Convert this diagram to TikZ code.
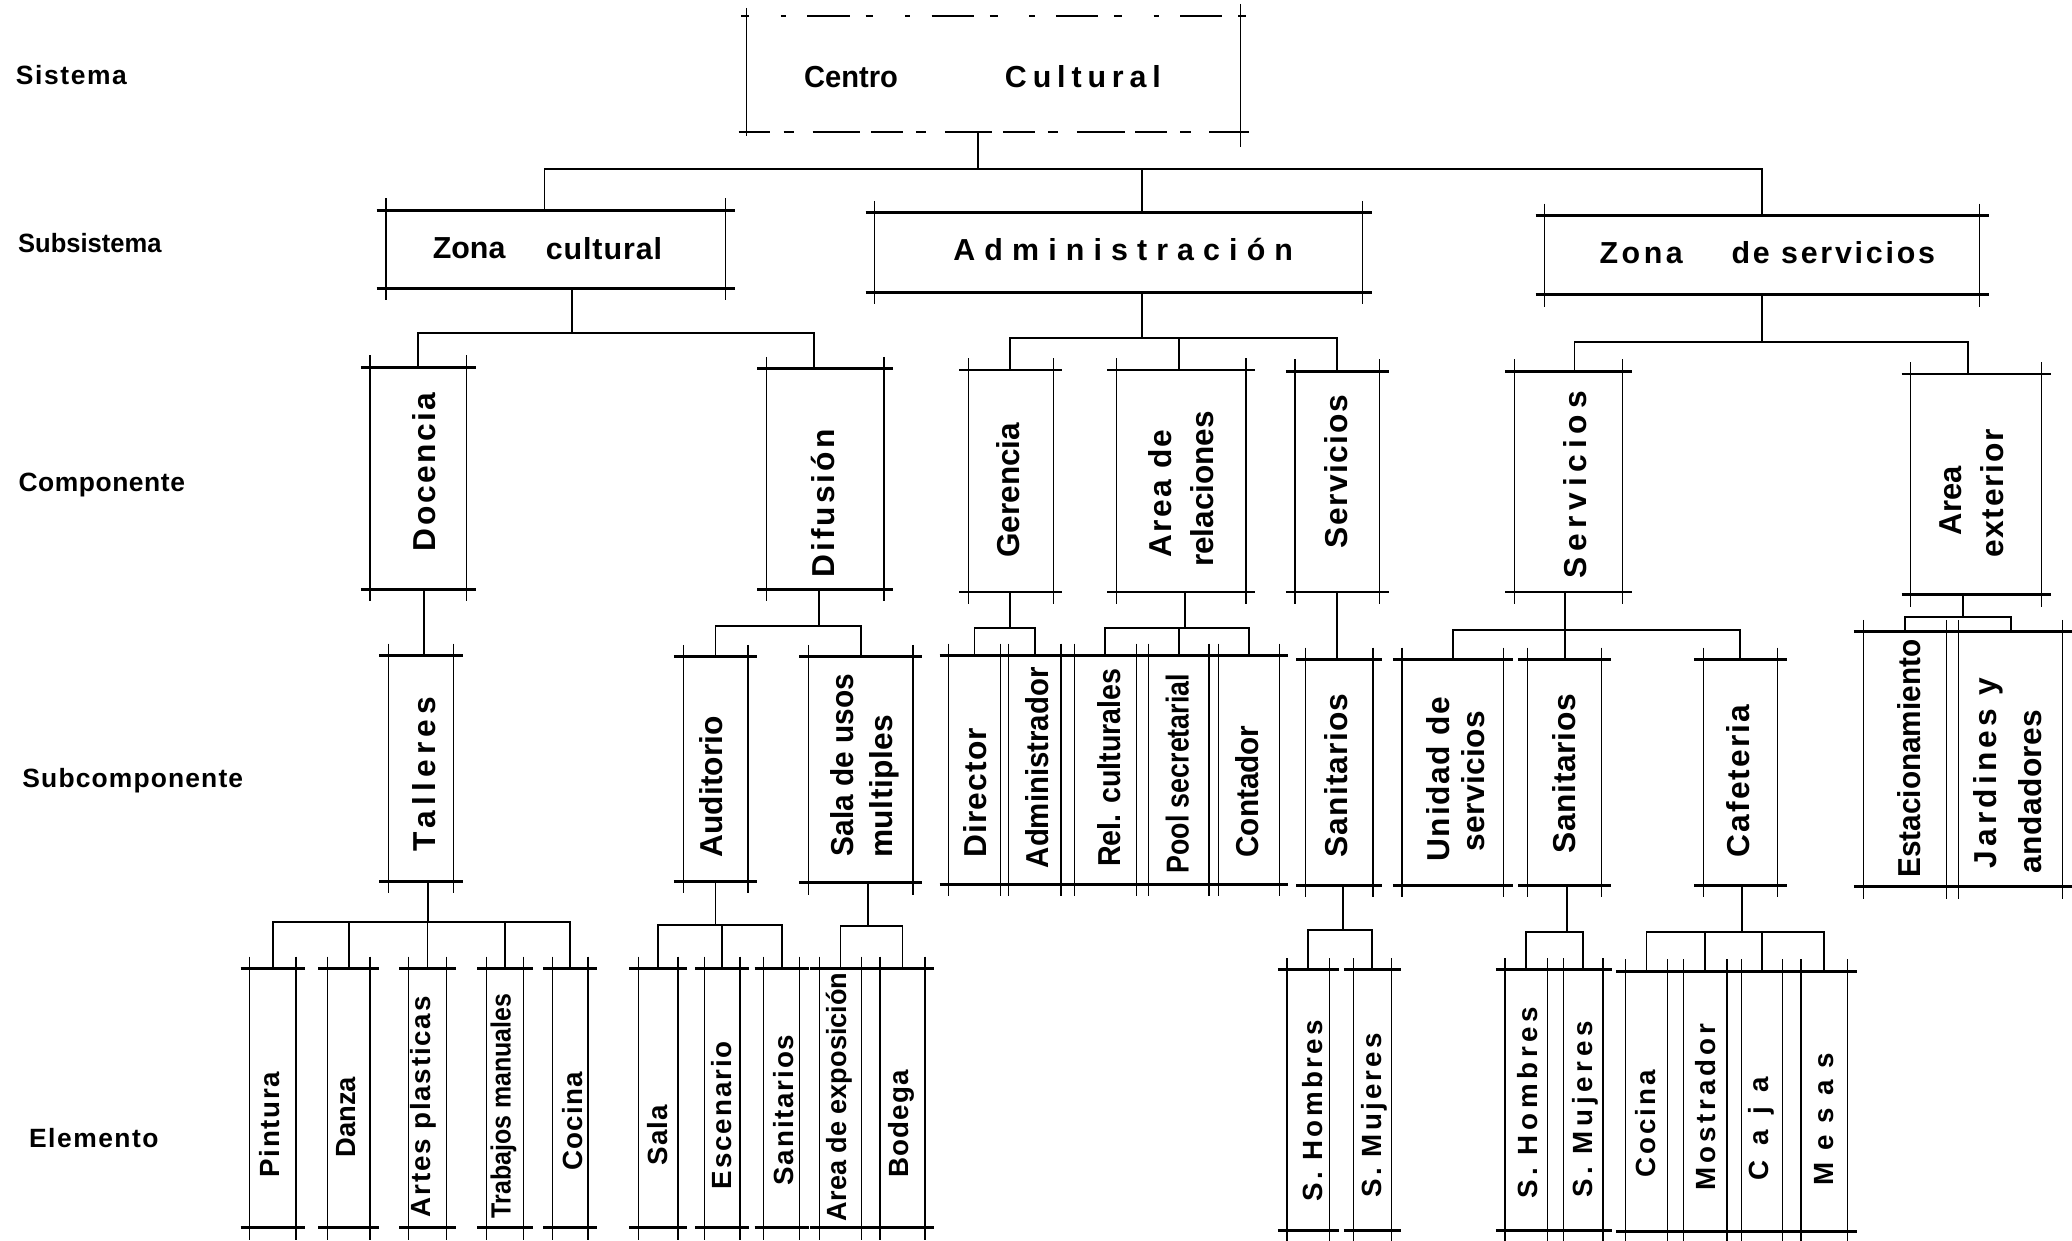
\documentclass[tikz,border=0pt]{standalone}
\usepackage{graphicx}
\usepackage{fontspec}
\setmainfont{Liberation Sans}
\newfontfamily\hfam{Liberation Sans}
\newfontfamily\vfam{Liberation Sans}
\newdimen\fitw \newdimen\fitem \newdimen\fitt \newcount\fitn
\def\fitloop#1{\ifx#1\relax\else\advance\fitn by 1 \expandafter\fitloop\fi}
\newcommand\fit[2]{{\fitn=0 \fitloop#2\relax\settowidth{\fitw}{#2}\setlength{\fitem}{1em}%
\fitt=#1\dimexpr0.5pt\relax
\ifdim\fitw>\fitt \resizebox{\fitt}{\height}{#2}\else
\pgfmathsetmacro\fitls{100*((#1*0.5pt)-\fitw)/((\the\fitn-1)*\fitem)}%
\edef\fittmp{\noexpand\addfontfeature{LetterSpace=\fitls}}\fittmp #2\fi}}
\newcommand\bx[5]{\node[box, minimum width={(#4-#2)*0.5pt}, minimum height={(#5-#3)*0.5pt}] (#1) at ({(#2+#4)/2},{(#3+#5)/2}) {};}
\newcommand\edges[1]{%
 \draw[hedge] ([xshift=-3.5pt]#1.north west) -- ([xshift=3.5pt]#1.north east);
 \draw[hedge] ([xshift=-3.5pt]#1.south west) -- ([xshift=3.5pt]#1.south east);
 \draw[vedge] ([yshift=4.5pt]#1.north west) -- ([yshift=-4.5pt]#1.south west);
 \draw[vedge] ([yshift=4.5pt]#1.north east) -- ([yshift=-4.5pt]#1.south east);}
\newcommand\link[5]{\draw[cline] ([xshift=#2*0.5pt]#1.south) |- ([xshift=#5*0.5pt]#4.north |- #3) -- ([xshift=#5*0.5pt]#4.north);}
\newcommand\single[3]{\draw[cline] ([xshift=#2*0.5pt]#1.south) -- ([xshift=#2*0.5pt]#1.south |- #3.north);}
\newcommand\tx[6]{\node[#1] (#2) at (#3,#4) {\fit{#5}{#6}};}
\begin{document}
\begin{tikzpicture}[x=0.5pt,y=-0.5pt,
 hedge/.style={line width=1.1pt},
 vedge/.style={line width=0.5pt},
 cline/.style={line width=0.7pt},
 box/.style={rectangle, inner sep=0pt, outer sep=0pt, draw=none},
 lbl/.style={inner sep=0pt, font=\vfam\bfseries\fontsize{10}{12}\selectfont},
 htxt/.style={inner sep=0pt, font=\hfam\bfseries\fontsize{11.5}{13}\selectfont},
 vtxt/.style={rotate=90, inner sep=0pt, font=\vfam\bfseries\fontsize{12}{14}\selectfont},
 etxt/.style={rotate=90, inner sep=0pt, font=\vfam\bfseries\fontsize{10.5}{13}\selectfont}]
\fill[white] (0,0) rectangle (1568,939);
\useasboundingbox (0,0) rectangle (1568,939);
% level labels
\tx{lbl}{l1}{54}{57}{84}{Sistema}
\tx{lbl}{l2}{68}{183.6}{108.5}{Subsistema}
\tx{lbl}{l3}{77}{367}{126}{Componente}
\tx{lbl}{l4}{100.5}{591}{167}{Subcomponente}
\tx{lbl}{l5}{71}{861}{98}{Elemento}
% boxes
\bx{cc}{565}{12}{939}{100}
\bx{zc}{292}{159}{549}{218}
\bx{adm}{662}{161}{1031}{221}
\bx{zs}{1169}{163}{1498}{223}
\bx{doc}{280}{278}{353}{446}
\bx{dif}{580}{279}{669}{446}
\bx{ger}{733}{280}{797}{448}
\bx{rel}{845}{280}{943}{448}
\bx{sera}{980}{281}{1044}{448}
\bx{serz}{1146}{281}{1228}{448}
\bx{aext}{1446}{283}{1545}{450}
\bx{tal}{294}{496}{343}{667}
\bx{aud}{517}{497}{566}{667}
\bx{sum}{612}{497}{691}{668}
\bx{dir}{718}{496}{757}{669}
\bx{admr}{763}{496}{803}{669}
\bx{relc}{813}{496}{860}{669}
\bx{pool}{869}{496}{915}{669}
\bx{cont}{922}{496}{968}{669}
\bx{sana}{988}{499}{1039}{670}
\bx{unid}{1061}{499}{1138}{670}
\bx{sanz}{1156}{499}{1212}{670}
\bx{caf}{1289}{499}{1345}{670}
\bx{est}{1410}{478}{1473}{671}
\bx{jard}{1482}{478}{1561}{671}
\bx{pin}{189}{733}{224}{929}
\bx{dan}{248}{733}{280}{929}
\bx{art}{309}{733}{338}{929}
\bx{tra}{368}{733}{396}{929}
\bx{coc}{418}{733}{445}{929}
\bx{sal}{483}{733}{513}{929}
\bx{esc}{533}{733}{560}{929}
\bx{snt}{578}{733}{605}{929}
\bx{aex}{620}{733}{652}{929}
\bx{bod}{666}{733}{700}{929}
\bx{sha}{974}{734}{1006}{931}
\bx{sma}{1024}{734}{1053}{931}
\bx{shz}{1139}{734}{1171}{931}
\bx{smz}{1183}{734}{1213}{931}
\bx{coz}{1230}{735}{1262}{932}
\bx{mos}{1274}{735}{1307}{932}
\bx{caj}{1318}{735}{1349}{932}
\bx{mes}{1363}{735}{1398}{932}
% box edges
\draw[vedge] ([yshift=3pt]cc.north west) -- ([yshift=-1.5pt]cc.south west);
\draw[vedge] ([yshift=4.5pt]cc.north east) -- ([yshift=-5.5pt]cc.south east);
\draw[vedge, dash pattern=on 3pt off 12pt on 2pt off 8pt on 16pt off 6pt] ([xshift=-2pt]cc.north west) -- ([xshift=3pt]cc.north east);
\draw[line width=0.8pt, dash pattern=on 12pt off 5pt on 4pt off 7pt on 18pt off 4pt] ([xshift=-3pt]cc.south west) -- ([xshift=3pt]cc.south east);
\foreach \n in {zc,adm,zs,doc,dif,ger,rel,sera,serz,aext,tal,aud,sum,dir,admr,relc,pool,cont,sana,unid,sanz,caf,est,jard,pin,dan,art,tra,coc,sal,esc,snt,aex,bod,sha,sma,shz,smz,coz,mos,caj,mes}{\edges{\n}}
% bus levels
\coordinate (b0) at (0,128);
\coordinate (b1) at (0,252);
\coordinate (b2) at (0,256);
\coordinate (b3) at (0,259);
\coordinate (b4) at (0,474);
\coordinate (b5) at (0,475);
\coordinate (b7) at (0,477);
\coordinate (b8) at (0,467);
\coordinate (b9) at (0,698);
\coordinate (b10) at (0,700);
\coordinate (b11) at (0,701);
\coordinate (b12) at (0,704);
\coordinate (b13) at (0,705);
% connectors
\link{cc}{-12}{b0}{zc}{-8.5}
\link{cc}{-12}{b0}{adm}{17.5}
\link{cc}{-12}{b0}{zs}{0}
\link{zc}{12.5}{b1}{doc}{0}
\link{zc}{12.5}{b1}{dif}{-8.5}
\link{adm}{17.5}{b2}{ger}{-1}
\link{adm}{17.5}{b2}{rel}{-2}
\link{adm}{17.5}{b2}{sera}{-0.5}
\link{zs}{0}{b3}{serz}{4.5}
\link{zs}{0}{b3}{aext}{-6}
\single{doc}{4.5}{tal}
\link{dif}{-4.5}{b4}{aud}{0}
\link{dif}{-4.5}{b4}{sum}{0}
\link{ger}{-1}{b5}{dir}{0}
\link{ger}{-1}{b5}{admr}{0}
\link{rel}{3}{b5}{relc}{0}
\link{rel}{3}{b5}{pool}{0}
\link{rel}{3}{b5}{cont}{0}
\single{sera}{0}{sana}
\link{serz}{-3}{b7}{unid}{0}
\link{serz}{-3}{b7}{sanz}{0}
\link{serz}{-3}{b7}{caf}{0}
\link{aext}{-10}{b8}{est}{0}
\link{aext}{-10}{b8}{jard}{0}
\foreach \c in {pin,dan,art,tra,coc}{\link{tal}{5.5}{b9}{\c}{0}}
\foreach \c in {sal,esc,snt}{\link{aud}{0}{b10}{\c}{0}}
\foreach \c in {aex,bod}{\link{sum}{5.5}{b11}{\c}{0}}
\foreach \c in {sha,sma}{\link{sana}{2.5}{b12}{\c}{0}}
\foreach \c in {shz,smz}{\link{sanz}{2}{b13}{\c}{0}}
\foreach \c in {coz,mos,caj,mes}{\link{caf}{1}{b13}{\c}{0}}
% horizontal texts
\tx{htxt}{t-cc1}{644}{58}{71}{Centro}
\tx{htxt}{t-cc2}{819.5}{58}{118}{Cultural}
\tx{htxt}{t-zc1}{355}{188}{55}{Zona}
\tx{htxt}{t-zc2}{457}{188}{88}{cultural}
\tx{htxt}{t-adm}{850}{188.6}{257}{Administración}
\tx{htxt}{t-zs1}{1242}{191.4}{63}{Zona}
\tx{htxt}{t-zs2}{1387.4}{191.4}{154}{de servicios}
% component texts
\tx{vtxt}{t-doc}{321}{357}{120}{Docencia}
\tx{vtxt}{t-dif}{623}{381}{112}{Difusión}
\tx{vtxt}{t-ger}{763}{371}{102}{Gerencia}
\tx{vtxt}{t-rel1}{878}{373.5}{97}{Area de}
\tx{vtxt}{t-rel2}{910}{370}{118}{relaciones}
\tx{vtxt}{t-sera}{1011}{357}{116}{Servicios}
\tx{vtxt}{t-serz}{1192}{367}{142}{Servicios}
\tx{vtxt}{t-aext1}{1476}{379}{52}{Area}
\tx{vtxt}{t-aext2}{1507.5}{373.5}{97}{exterior}
% subcomponent texts
\tx{vtxt}{t-tal}{321}{585.5}{117}{Talleres}
\tx{vtxt}{t-aud}{538}{595.5}{107}{Auditorio}
\tx{vtxt}{t-sum1}{637}{579}{138}{Sala de usos}
\tx{vtxt}{t-sum2}{669}{595}{108}{multiples}
\tx{vtxt}{t-dir}{738}{600}{98}{Director}
\tx{vtxt}{t-admr}{785}{581}{152}{Administrador}
\tx{vtxt}{t-relc}{839}{581}{150}{Rel. culturales}
\tx{vtxt}{t-pool}{891}{585.5}{151}{Pool secretarial}
\tx{vtxt}{t-cont}{944}{599}{100}{Contador}
\tx{vtxt}{t-sana}{1011}{587}{124}{Sanitarios}
\tx{vtxt}{t-unid1}{1088}{589.5}{125}{Unidad de}
\tx{vtxt}{t-unid2}{1114.6}{591}{106}{servicios}
\tx{vtxt}{t-sanz}{1184}{585.5}{121}{Sanitarios}
\tx{vtxt}{t-caf}{1315}{591}{116}{Cafeteria}
\tx{vtxt}{t-est}{1445}{574}{180}{Estacionamiento}
\tx{vtxt}{t-jard1}{1505}{585}{144}{Jardines y}
\tx{vtxt}{t-jard2}{1536}{599}{124}{andadores}
% element texts
\tx{etxt}{t-pin}{204}{851}{80}{Pintura}
\tx{etxt}{t-dan}{262}{845.5}{61}{Danza}
\tx{etxt}{t-art}{320}{837.5}{167}{Artes plasticas}
\tx{etxt}{t-tra}{381}{837}{170}{Trabajos manuales}
\tx{etxt}{t-coc}{433}{848.5}{75}{Cocina}
\tx{etxt}{t-sal}{498}{859}{46}{Sala}
\tx{etxt}{t-esc}{546}{844}{112}{Escenario}
\tx{etxt}{t-snt}{593}{840}{114}{Sanitarios}
\tx{etxt}{t-aex}{635}{830}{188}{Area de exposición}
\tx{etxt}{t-bod}{682}{850.5}{81}{Bodega}
\tx{etxt}{t-sha}{993}{840.5}{137}{S. Hombres}
\tx{etxt}{t-sma}{1040}{844}{124}{S. Mujeres}
\tx{etxt}{t-shz}{1156}{834.5}{145}{S. Hombres}
\tx{etxt}{t-smz}{1200}{839.5}{133}{S. Mujeres}
\tx{etxt}{t-coz}{1245.5}{850.5}{81}{Cocina}
\tx{etxt}{t-mos}{1291}{838}{126}{Mostrador}
\tx{etxt}{t-caj}{1333}{854}{78}{Caja}
\tx{etxt}{t-mes}{1380}{847}{100}{Mesas}
\end{tikzpicture}
\end{document}
